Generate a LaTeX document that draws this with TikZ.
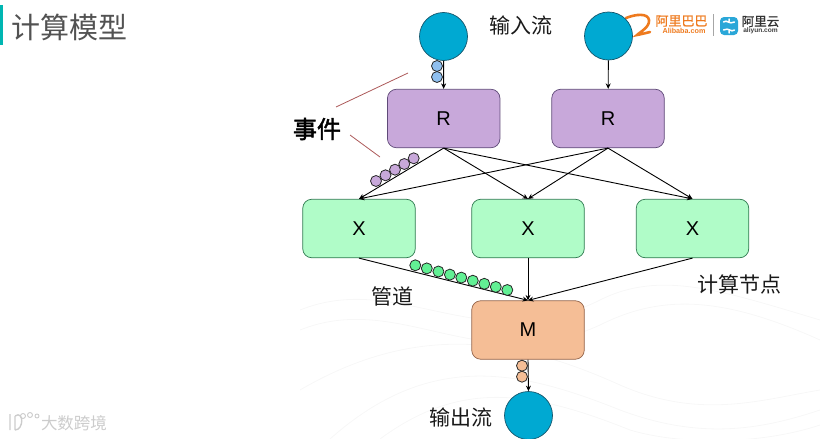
\documentclass[tikz,border=0pt]{standalone}
\usepackage{fontspec}
\setmainfont{Liberation Sans}
\newfontfamily\cjk{Noto Sans CJK SC}
\newfontfamily\cjkb{Noto Sans CJK SC}[FakeBold=2]
\newfontfamily\cjkm{Noto Sans CJK SC}[FakeBold=1]
\usetikzlibrary{arrows.meta}
\definecolor{blueC}{HTML}{00A9D2}
\definecolor{blueE}{HTML}{14566C}
\definecolor{purpF}{HTML}{C8A8DA}
\definecolor{purpE}{HTML}{5F4A78}
\definecolor{greenF}{HTML}{B0FCC8}
\definecolor{greenE}{HTML}{2F7A50}
\definecolor{orF}{HTML}{F5BE96}
\definecolor{orE}{HTML}{94644A}
\definecolor{aliO}{HTML}{EE7A1E}
\definecolor{aliB}{HTML}{2AA7D8}
\definecolor{beadB}{HTML}{8FBFEE}
\definecolor{beadG}{HTML}{62F094}
\tikzset{
  x=1pt,y=-1pt,
  stream/.style={circle,draw=blueE,fill=blueC,line width=.7pt,minimum size=48pt,inner sep=0pt},
  box/.style={rectangle,rounded corners=9pt,minimum width=112.5pt,minimum height=58.5pt,inner sep=0pt,line width=.7pt,font=\fontsize{20}{24}\selectfont},
  rbox/.style={box,draw=purpE,fill=purpF},
  xbox/.style={box,draw=greenE,fill=greenF},
  mbox/.style={box,draw=orE,fill=orF},
  bead/.style={circle,minimum size=11pt,inner sep=0pt,line width=.8pt,draw=black!85},
  bblue/.style={bead,fill=beadB},
  bpurp/.style={bead,fill=purpF},
  bgreen/.style={bead,fill=beadG},
  bor/.style={bead,fill=orF},
  pipe/.style={line width=.9pt,black,-{Stealth[length=5.5pt,width=5pt]}},
  lbl/.style={font=\cjk\fontsize{21}{24}\selectfont,text=black!90,inner sep=0pt},
  pointer/.style={line width=.8pt,draw=red!50!black!65},
  wave/.style={line width=.8pt,draw=black!3},
}
\begin{document}
\begin{tikzpicture}
\useasboundingbox (0,0) rectangle (820,439);
% faint background waves
\draw[wave] (300,310) .. controls (400,270) and (480,360) .. (600,300) .. controls (660,270) and (720,290) .. (820,320);
\draw[wave] (300,330) .. controls (400,290) and (480,380) .. (600,325) .. controls (660,295) and (720,295) .. (820,340);
\draw[wave] (300,390) .. controls (420,320) and (520,340) .. (620,385) .. controls (700,420) and (760,400) .. (820,390);
\draw[wave] (330,439) .. controls (430,350) and (520,370) .. (620,410) .. controls (700,440) and (760,430) .. (820,410);
\draw[wave] (380,439) .. controls (460,380) and (530,390) .. (630,430) .. controls (680,445) and (760,445) .. (820,425);
% title
\fill[fill=blueC!85!green] (0,5) rectangle (3,45);
\node[font=\cjk\fontsize{29}{32}\selectfont,text=black!68,inner sep=0pt] (title) at (69.5,27) {计算模型};
% logo
\draw[aliO,line width=2.6pt,line cap=round] (626,18) .. controls (636,14) and (648,13) .. (649,20) .. controls (650,27) and (640,32) .. (637,35) .. controls (642,34) and (646,33) .. (650,32);
\node[font=\cjkm\fontsize{13}{14}\selectfont,text=aliO,inner sep=0pt] (alicn) at (681.5,21) {阿里巴巴};
\node[font=\bfseries\fontsize{7.2}{8}\selectfont,text=aliO,inner sep=0pt] (alien) at (684,30.5) {Alibaba.com};
\draw[black!35,line width=.6pt] (713.5,14) -- (713.5,36);
\node[rectangle,rounded corners=4pt,fill=aliB,minimum size=18pt,inner sep=0pt] (aliicon) at (729,26) {};
\draw[white,line width=1.5pt,line cap=round] (723.5,22) .. controls (727,19) and (729,25) .. (734.5,22) (723.5,30) .. controls (729,27) and (731,33) .. (734.5,30) (729,19) -- (729,21) (729,31) -- (729,33);
\node[font=\cjkm\fontsize{12.5}{14}\selectfont,text=black!80,inner sep=0pt] (yuncn) at (760.5,21.5) {阿里云};
\node[font=\bfseries\fontsize{6.6}{8}\selectfont,text=black!75,inner sep=0pt] (yunen) at (760.5,31) {aliyun.com};
% watermark
\node[font=\cjk\fontsize{16.5}{18}\selectfont,text=black!20,inner sep=0pt] (wm) at (74,423) {大数跨境};
\draw[black!20,line width=1.4pt] (10,414) -- (10,430) (15,416) .. controls (24,410) and (24,430) .. (15,430) (15,416) -- (15,430);
\draw[black!20,line width=.9pt] (23,416) circle (2.5) (30,415) circle (2.5) (37,416) circle (2);
% nodes
\node[stream] (in1) at (443.5,36.5) {};
\node[stream] (in2) at (608.5,36) {};
\node[stream] (out) at (528.5,415.5) {};
\node[rbox] (r1) at (443.7,118.5) {R};
\node[rbox] (r2) at (608,118.5) {R};
\node[xbox] (x1) at (359,228.5) {X};
\node[xbox] (x2) at (528,228.5) {X};
\node[xbox] (x3) at (692.5,228.5) {X};
\node[mbox] (m) at (528,330) {M};
% connectors
\draw[pipe] (in1) -- (r1);
\draw[pipe] (in2) -- (r2);
\foreach \a in {r1,r2}{\foreach \b in {x1,x2,x3}{\draw[pipe] (\a.south) -- (\b.north);}}
\foreach \a in {x1,x2,x3}{\draw[pipe] (\a.south) -- (m.north);}
\draw[pipe] (m.south) -- (out.north);
% beads
\node[bblue] (ba) at (437,66) {};
\node[bblue] (bb) at (437,77) {};
\node[bpurp] (pa) at (376,181) {};
\node[bpurp] (pb) at (385.5,175.3) {};
\node[bpurp] (pc) at (395,169.7) {};
\node[bpurp] (pd) at (404.3,164) {};
\node[bpurp] (pe) at (413.7,158.3) {};
\foreach \i/\px/\py in {0/415.3/265.3,1/426.8/268.4,2/438.4/271.5,3/449.9/274.6,4/461.3/277.6,5/472.8/280.7,6/484.3/283.8,7/495.8/286.9,8/507.3/290}{
  \node[bgreen] (g\i) at (\px,\py) {};
}
\node[bor] (oa) at (522,365.7) {};
\node[bor] (ob) at (522,376.7) {};
% pointers and labels
\node[lbl] (lin) at (520.5,25) {输入流};
\node[font=\cjkb\fontsize{24}{26}\selectfont,inner sep=0pt] (lev) at (317,129) {事件};
\node[lbl] (lpipe) at (392,296) {管道};
\node[lbl] (lcalc) at (739,284) {计算节点};
\node[lbl] (lout) at (461,417) {输出流};
\coordinate (e1) at (408,73);
\coordinate (e2) at (380,157);
\draw[pointer] ([shift={(19,-22)}]lev.center) -- (e1);
\draw[pointer] ([shift={(33,6)}]lev.center) -- (e2);
\end{tikzpicture}
\end{document}
